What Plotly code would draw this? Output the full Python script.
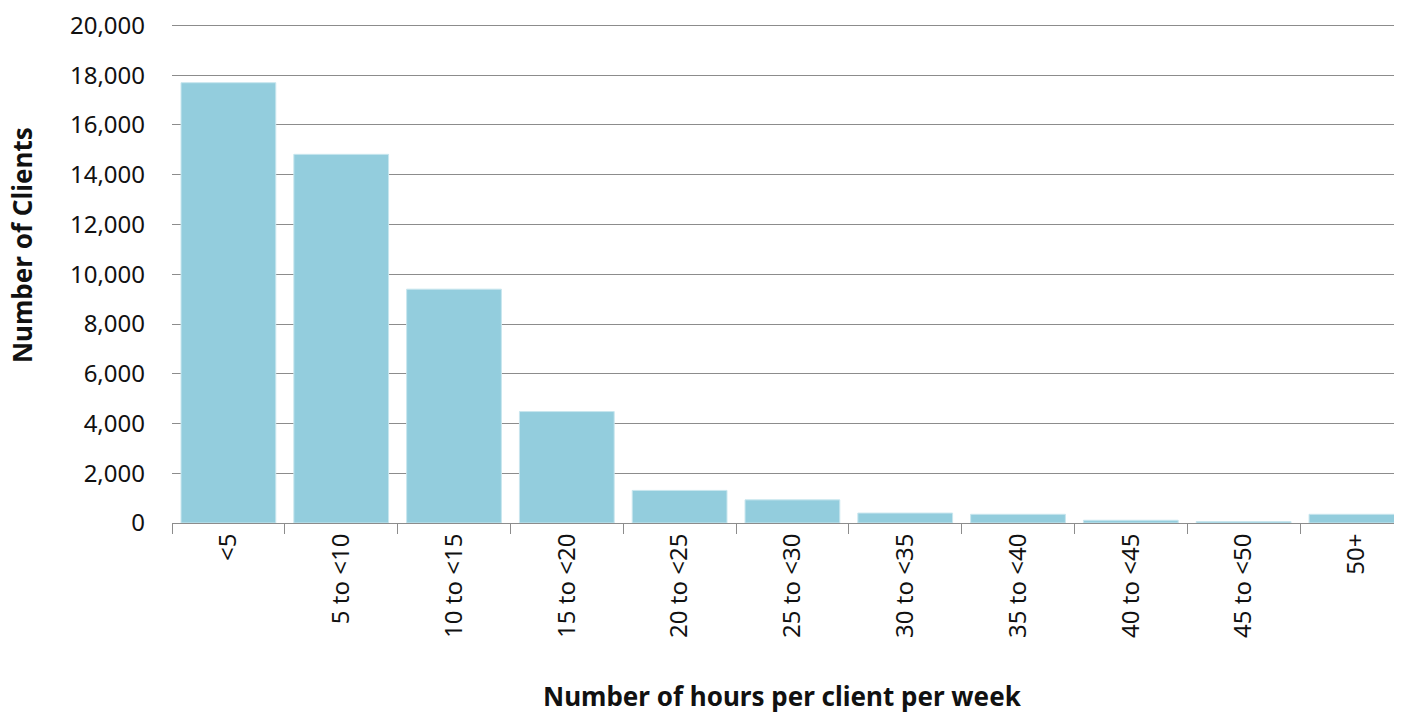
import plotly.graph_objects as go

categories = ["<5", "5 to <10", "10 to <15", "15 to <20", "20 to <25", "25 to <30",
              "30 to <35", "35 to <40", "40 to <45", "45 to <50", "50+"]
clients = [17700, 14820, 9400, 4480, 1310, 930, 400, 350, 110, 60, 350]

y_ticks = [0, 2000, 4000, 6000, 8000, 10000, 12000, 14000, 16000, 18000, 20000]
y_tick_labels = ["0", "2,000", "4,000", "6,000", "8,000", "10,000", "12,000",
                 "14,000", "16,000", "18,000", "20,000"]

FONT = "Noto Sans"
TXT = "#111111"

fig = go.Figure()
fig.add_trace(go.Bar(
    x=categories, y=clients,
    marker=dict(color="#93CDDD", line=dict(color="#C8E6EE", width=1)),
    hoverinfo="x+y",
))

fig.update_layout(
    width=1394, height=705,
    margin=dict(l=164, r=0, t=11, b=190),
    paper_bgcolor="white", plot_bgcolor="white",
    bargap=0.16,
    showlegend=False,
    font=dict(family=FONT, size=24, color=TXT),
    xaxis=dict(
        type="category",
        range=[-0.5, 10.404],
        tickangle=-90,
        tickson="boundaries",
        ticks="outside", ticklen=10, tickcolor="#8c8c8c", tickwidth=1,
        showline=True, linecolor="#8c8c8c", linewidth=1,
        showgrid=False,
        tickfont=dict(family=FONT, size=24, color=TXT),
    ),
    yaxis=dict(
        range=[0, 20100],
        tickvals=y_ticks, ticktext=y_tick_labels,
        showgrid=True, gridcolor="#8c8c8c", gridwidth=1,
        zeroline=False, showline=False,
        ticks="", ticklabelstandoff=26,
        ticklabeloverflow="allow",
        tickfont=dict(family=FONT, size=24, color=TXT),
    ),
    annotations=[
        dict(text="<b>Number of Clients</b>", xref="paper", yref="paper",
             x=-0.1215, y=0.555, xanchor="center", yanchor="middle",
             textangle=-90, showarrow=False,
             font=dict(family=FONT, size=26, color=TXT)),
        dict(text="<b>Number of hours per client per week</b>", xref="paper", yref="paper",
             x=0.496, y=-0.345, xanchor="center", yanchor="middle",
             showarrow=False,
             font=dict(family=FONT, size=26, color=TXT)),
    ],
)

fig.write_html("out.html")
